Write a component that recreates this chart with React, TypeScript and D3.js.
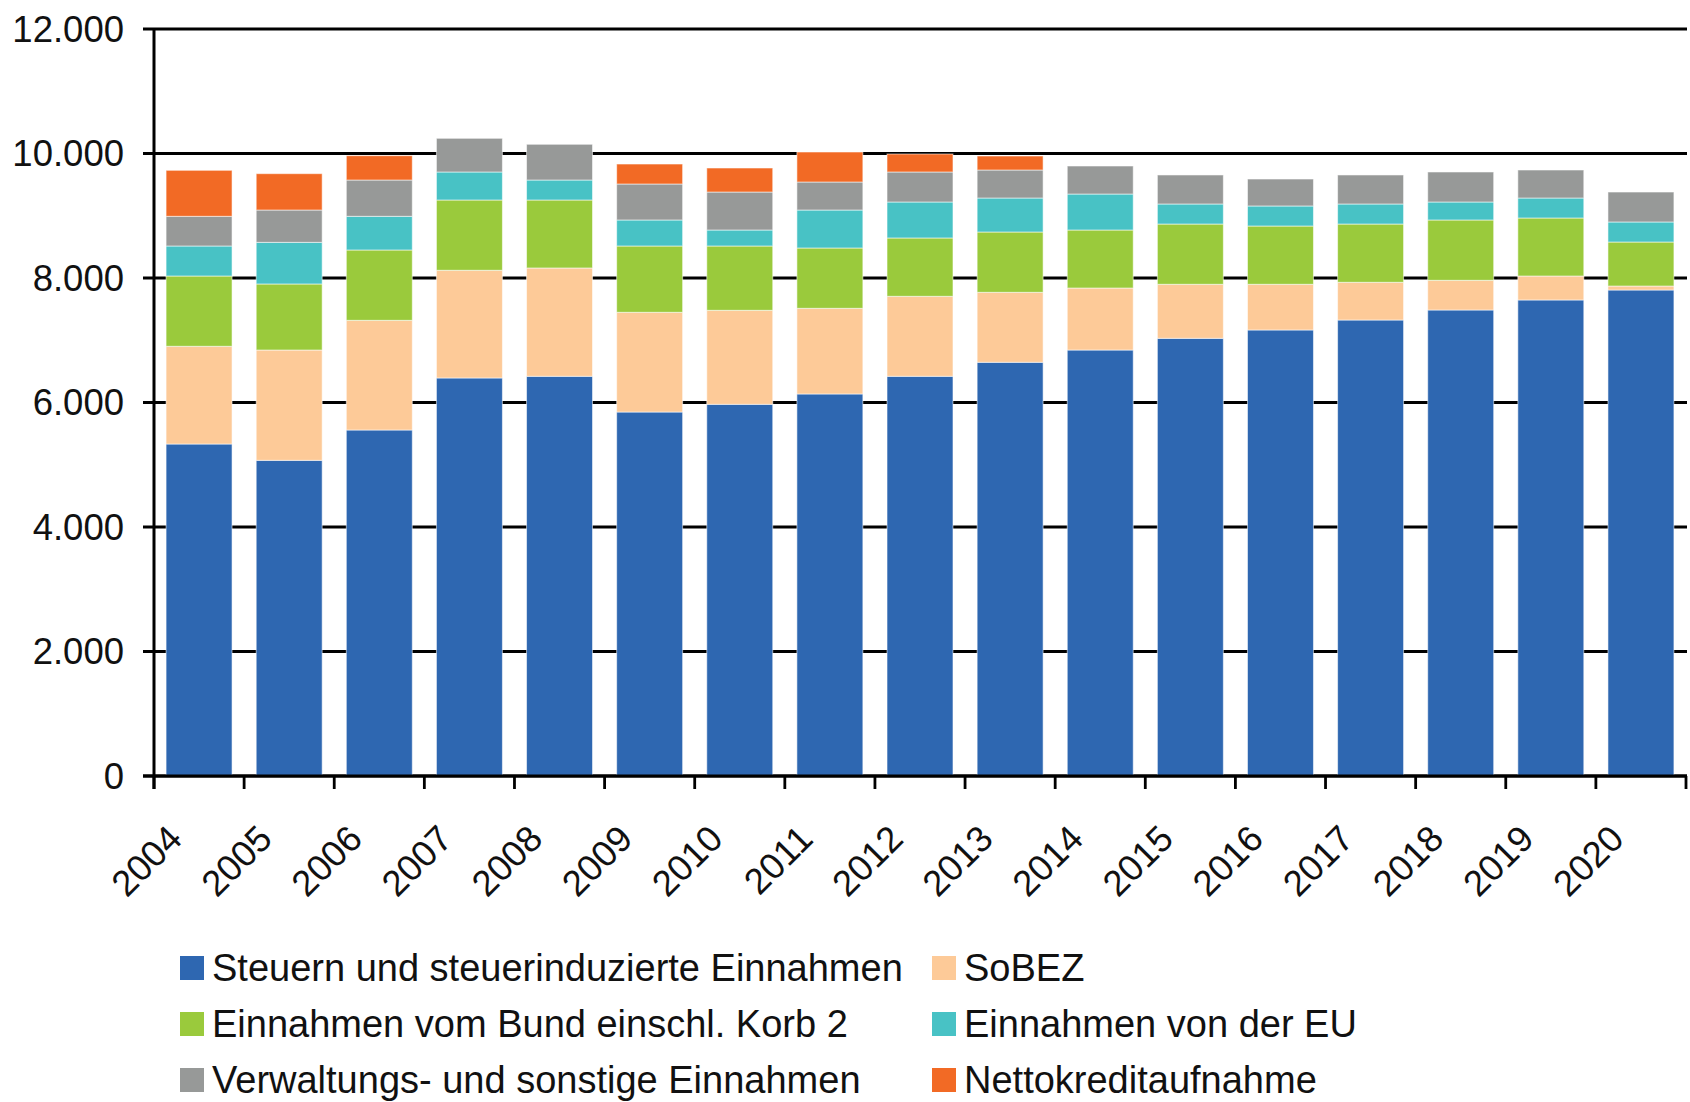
import React from "react";
import * as d3 from "d3";

const years = ["2004","2005","2006","2007","2008","2009","2010","2011","2012","2013","2014","2015","2016","2017","2018","2019","2020"];
const steuern = [5333, 5071, 5558, 6394, 6421, 5847, 5971, 6137, 6421, 6646, 6843, 7031, 7165, 7325, 7486, 7647, 7807];
const sobez = [1570, 1772, 1762, 1730, 1740, 1602, 1510, 1376, 1285, 1124, 996, 868, 734, 606, 477, 385, 64];
const bund = [1129, 1061, 1130, 1129, 1092, 1065, 1033, 969, 937, 969, 932, 968, 936, 936, 969, 932, 707];
const eu = [482, 669, 541, 450, 321, 418, 257, 610, 578, 546, 578, 322, 322, 322, 289, 321, 322];
const verwaltung = [477, 519, 583, 541, 574, 578, 610, 450, 482, 450, 450, 466, 433, 466, 482, 450, 481];
const kredit = [739, 584, 391, 0, 0, 321, 386, 482, 289, 225, 0, 0, 0, 0, 0, 0, 0];

const yTicks = [0, 2000, 4000, 6000, 8000, 10000, 12000];

const seriesKeys = ["steuern", "sobez", "bund", "eu", "verwaltung", "kredit"];
const seriesNames = [
  "Steuern und steuerinduzierte Einnahmen",
  "SoBEZ",
  "Einnahmen vom Bund einschl. Korb 2",
  "Einnahmen von der EU",
  "Verwaltungs- und sonstige Einnahmen",
  "Nettokreditaufnahme",
];
const colors = ["#2E67B1", "#FDCA98", "#9ACA3C", "#48C2C5", "#979998", "#F26A25"];

const FONT = "'Liberation Sans', Arial, Helvetica, sans-serif";

export default function App() {
  const W = 1690, H = 1102;
  const left = 154, right = 1686, top = 29, bottom = 776;

  const rows = years.map((y, i) => ({
    year: y,
    steuern: steuern[i],
    sobez: sobez[i],
    bund: bund[i],
    eu: eu[i],
    verwaltung: verwaltung[i],
    kredit: kredit[i],
  }));

  const stack = d3.stack<any>().keys(seriesKeys);
  const stacked = stack(rows);

  const p = 0.268;
  const x = d3.scaleBand<string>().domain(years).range([left, right]).paddingInner(p).paddingOuter(p / 2);
  const y = d3.scaleLinear().domain([0, 12000]).range([bottom, top]);
  const step = x.step();
  const fmt = (v: number) => d3.format(",")(v).replace(/,/g, ".");

  const legendRows = [968, 1024, 1080];
  const legendCols = [180, 932];

  return (
    <svg width={W} height={H} style={{ position: "absolute", left: 0, top: 0, background: "#fff" }} fontFamily={FONT}>
      {yTicks.map((t) => (
        <line key={"g" + t} x1={left - 11} x2={right + 1} y1={y(t)} y2={y(t)} stroke="#000" strokeWidth={2.8} />
      ))}
      {stacked.map((s, si) => (
        <g key={s.key} fill={colors[si]}>
          {s.map((d, i) => {
            const h = y(d[0]) - y(d[1]);
            if (h <= 0) return null;
            return (
              <rect
                key={i}
                x={x(years[i])}
                y={y(d[1])}
                width={x.bandwidth()}
                height={h}
                stroke="rgba(255,255,255,0.55)"
                strokeWidth={1}
              />
            );
          })}
        </g>
      ))}
      <line x1={left} x2={left} y1={top} y2={bottom + 13} stroke="#000" strokeWidth={3} />
      <line x1={left - 11} x2={right + 1} y1={bottom} y2={bottom} stroke="#000" strokeWidth={3} />
      {years.concat(["end"]).map((yr, i) => {
        const xx = left + i * step;
        return <line key={"xt" + i} x1={xx} x2={xx} y1={bottom} y2={bottom + 13} stroke="#000" strokeWidth={2.8} />;
      })}
      {yTicks.map((t) => (
        <text key={"yl" + t} x={124} y={y(t) + 12.5} textAnchor="end" fontSize={36.5} fill="#111">
          {fmt(t)}
        </text>
      ))}
      {years.map((yr) => {
        const cx = (x(yr) as number) + x.bandwidth() / 2;
        return (
          <text
            key={"xl" + yr}
            transform={`translate(${cx - 15},${bottom + 65}) rotate(-45)`}
            textAnchor="end"
            fontSize={36.5}
            fill="#111"
          >
            {yr}
          </text>
        );
      })}
      {seriesNames.map((name, i) => {
        const col = i % 2;
        const row = Math.floor(i / 2);
        const lx = legendCols[col];
        const ly = legendRows[row];
        return (
          <g key={"lg" + i}>
            <rect x={lx} y={ly - 12} width={24} height={24} fill={colors[i]} />
            <text x={lx + 32} y={ly + 13} fontSize={38} fill="#111">
              {name}
            </text>
          </g>
        );
      })}
    </svg>
  );
}
